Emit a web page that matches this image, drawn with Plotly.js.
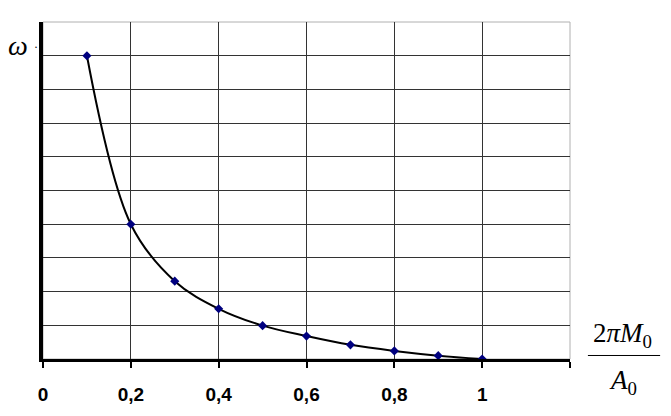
<!DOCTYPE html>
<html>
<head>
<meta charset="utf-8">
<script src="https://cdn.plot.ly/plotly-3.0.1.min.js"></script>
<style>
  html, body { margin: 0; padding: 0; background: #fff; }
  #chart { width: 671px; height: 416px; }
</style>
</head>
<body>
<div id="chart"></div>
<script>
// values (y in grid units, no scale given)
const ratio = [0.1, 0.2, 0.3, 0.4, 0.5, 0.6, 0.7, 0.8, 0.9, 1.0];
const omega = [9.0, 4.0, 2.31, 1.49, 0.99, 0.68, 0.42, 0.24, 0.10, 0.0];

const xTickVals = [0, 0.2, 0.4, 0.6, 0.8, 1, 1.2];
const xTickText = ['0', '0,2', '0,4', '0,6', '0,8', '1', ''];

const gridColor = '#333333';
const serif = 'Liberation Serif, Times New Roman, serif';

const trace = {
    x: ratio,
    y: omega,
    type: 'scatter',
    mode: 'lines+markers',
    line: { color: '#000', width: 2, shape: 'spline', smoothing: 1 },
    marker: { symbol: 'diamond', size: 7, color: '#00007f' },
    hoverinfo: 'x+y'
};

const layout = {
    width: 671,
    height: 416,
    margin: { l: 43, r: 101, t: 22, b: 57 },
    paper_bgcolor: '#fff',
    plot_bgcolor: '#fff',
    showlegend: false,
    font: { family: 'Liberation Sans, Arial, sans-serif', color: '#000' },
    xaxis: {
        range: [0, 1.2],
        tickvals: xTickVals,
        ticktext: xTickText.map(t => t ? '<b>' + t + '</b>' : t),
        ticks: 'outside',
        ticklen: 6,
        tickwidth: 2,
        tickcolor: '#000',
        ticklabelstandoff: 10,
        tickfont: { size: 19, family: 'Liberation Sans, Arial, sans-serif', color: '#000' },
        showgrid: true,
        gridcolor: gridColor,
        gridwidth: 1,
        zeroline: false,
        showline: true,
        linecolor: '#000',
        linewidth: 3,
        fixedrange: true
    },
    yaxis: {
        range: [0, 10],
        dtick: 1,
        showticklabels: false,
        ticks: '',
        showgrid: true,
        gridcolor: gridColor,
        gridwidth: 1,
        zeroline: false,
        showline: true,
        linecolor: '#000',
        linewidth: 4,
        fixedrange: true
    },
    shapes: [
        // light frame on top and right
        { type: 'rect', xref: 'paper', yref: 'paper', x0: 0, x1: 1, y0: 0, y1: 1,
          line: { color: '#b0b0b0', width: 1 }, layer: 'below' },
        // fraction bar of the x-axis title
        { type: 'line', xref: 'paper', yref: 'paper', x0: 1.034, x1: 1.171, y0: 0.0104, y1: 0.0104,
          line: { color: '#000', width: 1 } }
    ],
    annotations: [
        { xref: 'paper', yref: 'paper', x: -0.047, y: 0.93, xanchor: 'center', yanchor: 'middle',
          text: '<i>ω</i>', showarrow: false,
          font: { family: serif, size: 28, color: '#000' } },
        { xref: 'paper', yref: 'paper', x: -0.013, y: 0.926, xanchor: 'center', yanchor: 'middle',
          text: '·', showarrow: false,
          font: { family: serif, size: 12, color: '#000' } },
        { xref: 'paper', yref: 'paper', x: 1.099, y: 0.072, xanchor: 'center', yanchor: 'middle',
          text: '2<i>πM</i><sub>0</sub>', showarrow: false,
          font: { family: serif, size: 27, color: '#000' } },
        { xref: 'paper', yref: 'paper', x: 1.101, y: -0.068, xanchor: 'center', yanchor: 'middle',
          text: '<i>A</i><sub>0</sub>', showarrow: false,
          font: { family: serif, size: 27, color: '#000' } }
    ]
};

Plotly.newPlot('chart', [trace], layout, { displayModeBar: false, staticPlot: true });
</script>
</body>
</html>
